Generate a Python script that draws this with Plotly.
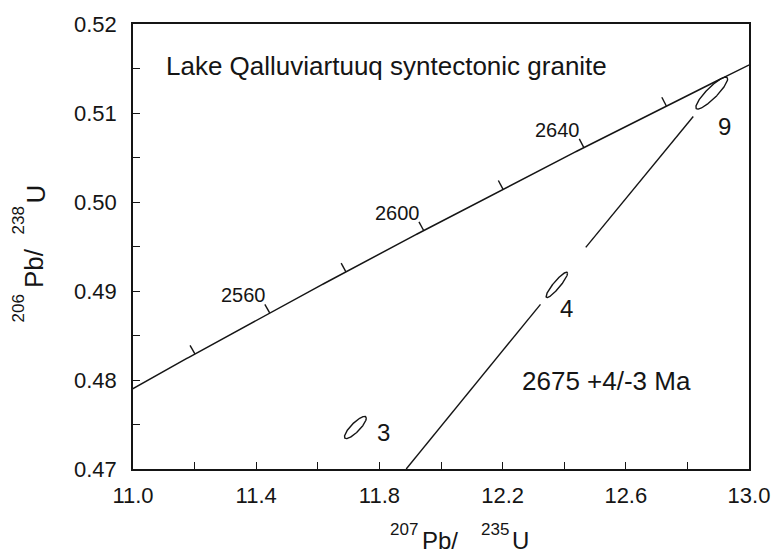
import numpy as np
import plotly.graph_objects as go

# ---------------- data ----------------
# decay constants (per year) defining the concordia curve
LAMBDA_238 = 1.55125e-10
LAMBDA_235 = 9.8485e-10
concordia_tick_ages = [2540, 2560, 2580, 2600, 2620, 2640, 2660]   # Ma
concordia_label_ages = [2560, 2600, 2640]                         # Ma

# zircon analyses (207Pb/235U, 206Pb/238U, half-extent x, half-extent y, rho)
fraction_labels = ["3", "4", "9"]
ell_x = [11.722, 12.376, 12.879]
ell_y = [0.47466, 0.49069, 0.51224]
ell_ex = [0.0355, 0.0349, 0.0516]
ell_ey = [0.00125, 0.00143, 0.00180]
ell_rho = [0.837, 0.911, 0.884]
label_x = [11.813, 12.409, 12.921]
label_y = [0.47411, 0.48806, 0.50845]

# discordia segments (None = gap)
disc_x = [11.887, 12.323, None, 12.470, 12.819]
disc_y = [0.4700, 0.4885, None, 0.4949, 0.5096]

x_tickvals = [11.0, 11.2, 11.4, 11.6, 11.8, 12.0, 12.2, 12.4, 12.6, 12.8, 13.0]
x_ticktext = ["11.0", "", "11.4", "", "11.8", "", "12.2", "", "12.6", "", "13.0"]
y_tickvals = [0.470, 0.475, 0.480, 0.485, 0.490, 0.495, 0.500, 0.505, 0.510, 0.515, 0.520]
y_ticktext = ["0.47", "", "0.48", "", "0.49", "", "0.50", "", "0.51", "", "0.52"]

title_text = "Lake Qalluviartuuq syntectonic granite"
title_pos = (11.10, 0.5153)
age_text = "2675 +4/-3 Ma"
age_pos = (12.537, 0.4799)

# ---------------- layout constants ----------------
W, H = 782, 558
ML, MR, MT, MB = 133, 30, 15, 89
XR = [11.0, 13.0]
YR = [0.47, 0.52]
PW = W - ML - MR
PH = H - MT - MB
SX = PW / (XR[1] - XR[0])      # px per x unit
SY = PH / (YR[1] - YR[0])      # px per y unit
INK = "#151515"
FONT = "Liberation Sans, Arial, Helvetica, sans-serif"


def conc(t_ma):
    t = np.asarray(t_ma, dtype=float) * 1e6
    return np.exp(LAMBDA_235 * t) - 1, np.exp(LAMBDA_238 * t) - 1


fig = go.Figure()

# concordia curve
ages = np.linspace(2515, 2690, 400)
cx, cy = conc(ages)
fig.add_trace(go.Scatter(x=cx, y=cy, mode="lines", line=dict(color=INK, width=1.5),
                         hoverinfo="skip", showlegend=False))

# concordia age ticks (perpendicular, outward to upper-left)
TL = 10.0
tx_all, ty_all, ends = [], [], {}
for a in concordia_tick_ages:
    x0, y0 = conc(a)
    t = a * 1e6
    dx = LAMBDA_235 * np.exp(LAMBDA_235 * t) * SX
    dy = LAMBDA_238 * np.exp(LAMBDA_238 * t) * SY
    n = np.hypot(dx, dy)
    nx, ny = -dy / n, dx / n
    x1 = x0 + nx * TL / SX
    y1 = y0 + ny * TL / SY
    tx_all += [float(x0), float(x1), None]
    ty_all += [float(y0), float(y1), None]
    ends[a] = (float(x1), float(y1))
fig.add_trace(go.Scatter(x=tx_all, y=ty_all, mode="lines", line=dict(color=INK, width=1.4),
                         hoverinfo="skip", showlegend=False))

# discordia
fig.add_trace(go.Scatter(x=disc_x, y=disc_y, mode="lines", line=dict(color=INK, width=1.4),
                         connectgaps=False, hoverinfo="skip", showlegend=False))

# error ellipses
th = np.linspace(0, 2 * np.pi, 200)
for x0, y0, ex, ey, r in zip(ell_x, ell_y, ell_ex, ell_ey, ell_rho):
    ex_ = x0 + ex * np.cos(th)
    ey_ = y0 + ey * (r * np.cos(th) + np.sqrt(1 - r * r) * np.sin(th))
    fig.add_trace(go.Scatter(x=ex_, y=ey_, mode="lines", line=dict(color=INK, width=1.4),
                             hoverinfo="skip", showlegend=False))

annotations = []
# concordia age labels
for a in concordia_label_ages:
    x1, y1 = ends[a]
    annotations.append(dict(x=x1, y=y1, xref="x", yref="y", text=str(a), showarrow=False,
                            xanchor="right", yanchor="middle", xshift=3, yshift=9,
                            font=dict(family=FONT, size=20, color=INK)))
# fraction labels
for t, x, y in zip(fraction_labels, label_x, label_y):
    annotations.append(dict(x=x, y=y, xref="x", yref="y", text=t, showarrow=False,
                            xanchor="center", yanchor="middle",
                            font=dict(family=FONT, size=24, color=INK)))
annotations.append(dict(x=title_pos[0], y=title_pos[1], xref="x", yref="y", text=title_text,
                        showarrow=False, xanchor="left", yanchor="middle",
                        font=dict(family=FONT, size=26, color=INK)))
annotations.append(dict(x=age_pos[0], y=age_pos[1], xref="x", yref="y", text=age_text,
                        showarrow=False, xanchor="center", yanchor="middle",
                        font=dict(family=FONT, size=26, color=INK)))


def page_text(text, px, py, size, angle=0):
    return dict(xref="paper", yref="paper", x=0, y=1, xshift=px - ML, yshift=-(py - MT),
                text=text, showarrow=False, xanchor="center", yanchor="middle",
                textangle=angle, font=dict(family=FONT, size=size, color=INK))


# axis titles (superscript pieces)
annotations += [
    page_text("206", 17.5, 300, 17, -90),
    page_text("Pb/", 34, 259, 26, -90),
    page_text("238", 17.5, 212, 17, -90),
    page_text("U", 35, 185.5, 26, -90),
    page_text("207", 403.5, 520, 17),
    page_text("Pb/", 440, 531, 24),
    page_text("235", 495, 520, 17),
    page_text("U", 520, 531, 24),
]

axis_common = dict(showline=True, linecolor=INK, linewidth=1.6, mirror=True,
                   ticks="inside", ticklen=7, tickwidth=1.4, tickcolor=INK,
                   showgrid=False, zeroline=False,
                   tickfont=dict(family=FONT, size=22, color=INK))

fig.update_layout(
    width=W, height=H,
    margin=dict(l=ML, r=MR, t=MT, b=MB),
    paper_bgcolor="white", plot_bgcolor="white",
    xaxis=dict(range=XR, tickmode="array", tickvals=x_tickvals, ticktext=x_ticktext,
               ticklabelstandoff=6, **axis_common),
    yaxis=dict(range=YR, tickmode="array", tickvals=y_tickvals, ticktext=y_ticktext,
               ticklabelstandoff=10, **axis_common),
    annotations=annotations,
    showlegend=False,
)

fig.write_html("out.html")
